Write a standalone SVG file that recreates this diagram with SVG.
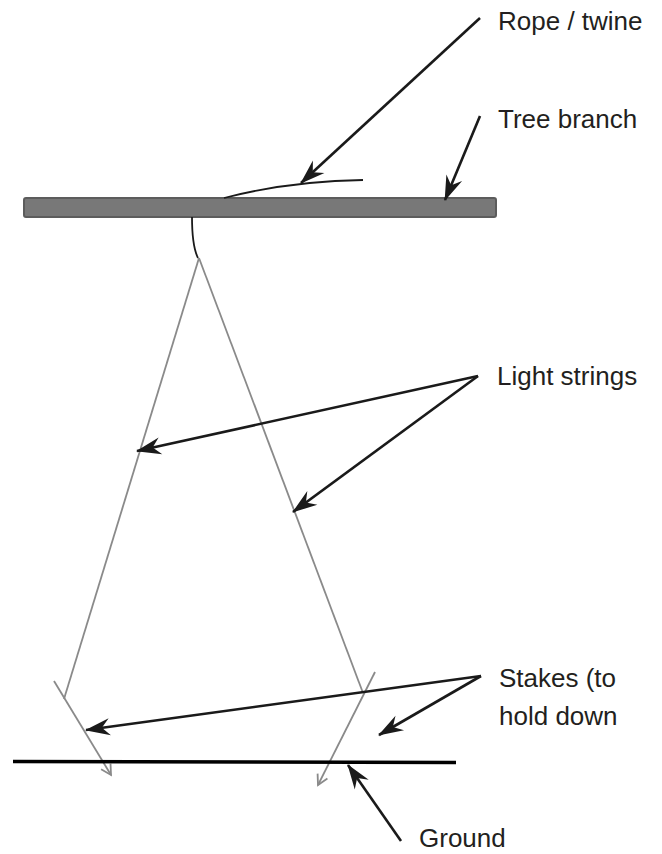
<svg xmlns="http://www.w3.org/2000/svg" width="662" height="854" viewBox="0 0 662 854">
<style>
  .lbl { font-family: "Liberation Sans", Arial, sans-serif; font-size: 26px; fill: #231f20; }
  .ptr { stroke: #1a1a1a; stroke-width: 2.6; fill: none; marker-end: url(#barb); }
  .str { stroke: #8a8a8a; stroke-width: 1.8; fill: none; }
  .stake { stroke: #8a8a8a; stroke-width: 1.8; fill: none; marker-end: url(#open); }
  .rope { stroke: #1a1a1a; stroke-width: 1.8; fill: none; }
</style>
<defs>
  <marker id="barb" viewBox="-26 -10 28 20" refX="0" refY="0" markerWidth="28" markerHeight="20" markerUnits="userSpaceOnUse" orient="auto">
    <path d="M1,0 L-24,-8.5 L-16,0 L-24,8.5 Z" fill="#1a1a1a"/>
  </marker>
  <marker id="open" viewBox="-12 -7 14 14" refX="0" refY="0" markerWidth="14" markerHeight="14" markerUnits="userSpaceOnUse" orient="auto">
    <path d="M-10,-5.5 L0,0 L-10,5.5" fill="none" stroke="#8a8a8a" stroke-width="1.8"/>
  </marker>
</defs>
<rect width="662" height="854" fill="#ffffff"/>

<g id="branch">
  <rect x="24" y="198" width="472" height="19" rx="2" fill="#787878" stroke="#5c5c5c" stroke-width="2"/>
</g>
<g id="rope">
  <path class="rope" d="M224,198 Q290,181 363,180"/>
  <path class="rope" d="M192,217 C192,236 194,250 198,258"/>
</g>
<g id="light-strings">
  <line class="str" x1="199" y1="258" x2="64" y2="699"/>
  <line class="str" x1="199" y1="258" x2="363" y2="693"/>
</g>
<g id="stakes">
  <line class="stake" x1="54" y1="681" x2="111" y2="775"/>
  <line class="stake" x1="375" y1="672" x2="318" y2="785"/>
</g>
<g id="ground">
  <line x1="13" y1="761.5" x2="456" y2="762.5" stroke="#000000" stroke-width="3.5"/>
</g>

<g id="label-rope"><text class="lbl" x="498" y="30">Rope / twine</text></g>
<g id="label-branch"><text class="lbl" x="498" y="128">Tree branch</text></g>
<g id="label-strings"><text class="lbl" x="497" y="385">Light strings</text></g>
<g id="label-stakes"><text class="lbl" x="499" y="687">Stakes (to</text><text class="lbl" x="499" y="725">hold down</text></g>
<g id="label-ground"><text class="lbl" x="419" y="847">Ground</text></g>

<g id="connectors">
  <line class="ptr" x1="480" y1="18" x2="301" y2="183"/>
  <line class="ptr" x1="480" y1="116" x2="445" y2="200"/>
  <line class="ptr" x1="478" y1="376" x2="137" y2="451"/>
  <line class="ptr" x1="478" y1="376" x2="293" y2="512"/>
  <line class="ptr" x1="481" y1="676" x2="86" y2="730"/>
  <line class="ptr" x1="481" y1="676" x2="379" y2="735"/>
  <line class="ptr" x1="401" y1="841" x2="348" y2="765"/>
</g>
</svg>
